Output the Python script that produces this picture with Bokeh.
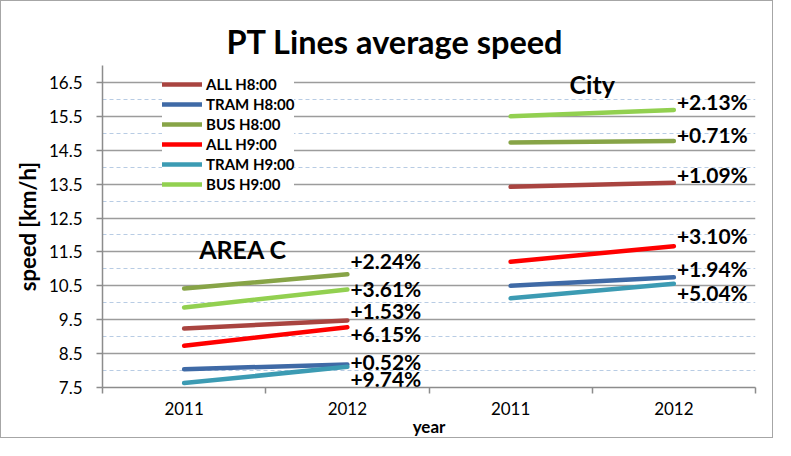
from bokeh.plotting import figure
from bokeh.models import (ColumnDataSource, FixedTicker, Grid, Legend, LegendItem,
                          LinearAxis, Range1d, Title)
from bokeh.core.properties import value
from bokeh.embed import file_html
from bokeh.resources import INLINE

# ---------------- data ----------------
x_labels = ["2011", "2012", "2011", "2012"]
series = ["ALL H8:00", "TRAM H8:00", "BUS H8:00", "ALL H9:00", "TRAM H9:00", "BUS H9:00"]
area_c_2011 = [9.24, 8.04, 10.42, 8.73, 7.63, 9.86]
area_c_2012 = [9.48, 8.18, 10.84, 9.28, 8.11, 10.39]
city_2011 = [13.42, 10.50, 14.73, 11.21, 10.13, 15.50]
city_2012 = [13.54, 10.75, 14.77, 11.67, 10.56, 15.69]
area_c_change = ["+1.53%", "+0.52%", "+2.24%", "+6.15%", "+9.74%", "+3.61%"]
city_change = ["+1.09%", "+1.94%", "+0.71%", "+3.10%", "+5.04%", "+2.13%"]
y_ticks = [7.5, 8.5, 9.5, 10.5, 11.5, 12.5, 13.5, 14.5, 15.5, 16.5]
y_minor = [8, 9, 10, 11, 12, 13, 14, 15, 16, 17]

# ---------------- styles ----------------
colors = ["#A94440", "#3F6AA6", "#87A447", "#FF0000", "#3C9BB3", "#92D050"]
area_c_dy = [-10, -3, -14, 6, 12, -1]
city_dy = [-8, -9, -7, -11, 9, -8]
FONT = "Lato"

# category slots: centre of slot i is i + 0.5, boundaries are integers
n_cat = len(x_labels)
centers = [i + 0.5 for i in range(n_cat)]
bounds = list(range(n_cat + 1))

p = figure(x_range=Range1d(0, n_cat), y_range=Range1d(7.5, 17),
           width=773, height=438, output_backend="svg", toolbar_location=None,
           x_axis_location=None,
           min_border_left=101, min_border_right=19, min_border_top=64, min_border_bottom=51)
p.styles = {"border": "1px solid #A6A6A6"}
p.outline_line_color = None
p.background_fill_color = "white"
p.border_fill_color = "white"

# y axis
yticker = FixedTicker(ticks=y_ticks, minor_ticks=y_minor)
ya = p.yaxis[0]
ya.ticker = yticker
ya.axis_label = "speed [km/h]"
ya.axis_label_text_font = FONT
ya.axis_label_text_font_style = "bold"
ya.axis_label_text_font_size = "22px"
ya.axis_label_text_color = "black"
ya.axis_label_standoff = 5
ya.major_label_text_font = FONT
ya.major_label_text_font_size = "17px"
ya.major_label_text_color = "black"
ya.major_label_standoff = 14
ya.axis_line_color = "#8C8C8C"
ya.axis_line_width = 1.5
ya.major_tick_line_color = "#8C8C8C"
ya.major_tick_line_width = 1.5
ya.major_tick_out = 6
ya.major_tick_in = 0
ya.minor_tick_line_color = None

# x axes: boundary ticks + category labels
tick_axis = LinearAxis(ticker=FixedTicker(ticks=bounds, minor_ticks=[]),
                       major_label_overrides={b: "" for b in bounds},
                       major_label_standoff=0, major_tick_out=6, major_tick_in=0,
                       axis_line_color="#8C8C8C", axis_line_width=1.5,
                       major_tick_line_color="#8C8C8C", major_tick_line_width=1.5,
                       minor_tick_line_color=None)
p.add_layout(tick_axis, "below")
cat_axis = LinearAxis(ticker=FixedTicker(ticks=centers, minor_ticks=[]),
                      major_label_overrides={c: lab for c, lab in zip(centers, x_labels)},
                      axis_line_color=None, major_tick_line_color=None,
                      minor_tick_line_color=None,
                      major_tick_out=0, major_tick_in=0, major_label_standoff=8,
                      major_label_text_font=FONT, major_label_text_font_size="17px",
                      major_label_text_color="black",
                      axis_label="year", axis_label_text_font=FONT,
                      axis_label_text_font_style="bold", axis_label_text_font_size="17px",
                      axis_label_text_color="black", axis_label_standoff=-2)
p.add_layout(cat_axis, "below")

# grids
major_grid = p.ygrid[0]
major_grid.ticker = yticker
major_grid.grid_line_color = "#9C9C9C"
major_grid.grid_line_width = 1.3
major_grid.minor_grid_line_color = None
minor_grid = Grid(dimension=1, ticker=yticker, grid_line_color=None,
                  minor_grid_line_color="#B8CCE4", minor_grid_line_dash="4 3",
                  minor_grid_line_width=1)

# data lines
items = []
for i, name in enumerate(series):
    src = ColumnDataSource(dict(
        x0=[centers[0], centers[2]], y0=[area_c_2011[i], city_2011[i]],
        x1=[centers[1], centers[3]], y1=[area_c_2012[i], city_2012[i]]))
    r = p.segment("x0", "y0", "x1", "y1", source=src, line_color=colors[i],
                  line_width=4.5, line_cap="round")
    items.append(LegendItem(label=name, renderers=[r]))

# percentage labels
lab_src = ColumnDataSource(dict(
    x=[centers[1]] * len(series) + [centers[3]] * len(series),
    y=area_c_2012 + city_2012,
    text=area_c_change + city_change,
    dy=area_c_dy + city_dy))
p.text("x", "y", text="text", y_offset="dy", x_offset=3, source=lab_src,
       text_font=value(FONT), text_font_style="bold", text_font_size="21px",
       text_color="black", text_align="left", text_baseline="middle")

# group captions
p.text(x=[centers[0]], y=[11.6], text=["AREA C"], x_offset=15,
       text_font=value(FONT), text_font_style="bold", text_font_size="25px",
       text_color="black", text_align="left", text_baseline="middle")
p.text(x=[bounds[3]], y=[16.45], text=["City"], x_offset=0,
       text_font=value(FONT), text_font_style="bold", text_font_size="25px",
       text_color="black", text_align="center", text_baseline="middle")

legend = Legend(items=items, location=(60, 193), padding=2, margin=0, spacing=0,
                glyph_width=40, glyph_height=20, label_height=20, label_standoff=4,
                label_text_font=FONT, label_text_font_style="bold",
                label_text_font_size="15px", label_text_color="black",
                background_fill_color="white", background_fill_alpha=1.0,
                border_line_color=None)
legend.level = "underlay"
p.center = [minor_grid, legend, major_grid]

p.title = Title(text="PT Lines average speed", align="left", offset=124,
                text_font=FONT, text_font_style="bold", text_font_size="32.5px",
                text_color="black", standoff=10)

open("out.html", "w").write(file_html(p, INLINE))
